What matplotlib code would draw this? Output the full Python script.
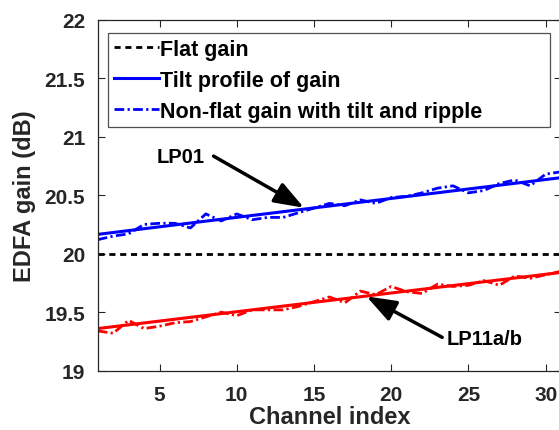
import matplotlib
matplotlib.use("Agg")
import matplotlib.pyplot as plt
import numpy as np

plt.rcParams['font.family'] = ['Liberation Sans', 'DejaVu Sans']
plt.rcParams['font.weight'] = 'bold'

# Channel indices
channels = np.arange(1, 32)

# Flat gain reference level (dB)
flat_gain = 20.0

# Tilt profiles (end points, channel 1 and 31)
tilt_x = [1, 31]
lp01_tilt = [20.165, 20.65]
lp11_tilt = [19.36, 19.84]

# Non-flat gain with tilt and ripple
lp01_ripple = [20.12, 20.15, 20.17, 20.25, 20.26, 20.26, 20.22, 20.34, 20.28, 20.34,
               20.29, 20.31, 20.31, 20.35, 20.39, 20.43, 20.41, 20.46, 20.43, 20.48,
               20.49, 20.52, 20.56, 20.58, 20.52, 20.54, 20.60, 20.63, 20.58, 20.68,
               20.70]
lp11_ripple = [19.34, 19.32, 19.43, 19.36, 19.38, 19.41, 19.42, 19.46, 19.50, 19.47,
               19.52, 19.52, 19.52, 19.55, 19.59, 19.63, 19.58, 19.68, 19.65, 19.72,
               19.675, 19.66, 19.74, 19.72, 19.73, 19.77, 19.73, 19.81, 19.79, 19.82,
               19.85]

fig = plt.figure(figsize=(5.59, 4.31), dpi=100)
ax = fig.add_axes([0.1748, 0.1376, 0.829, 0.8144])

ax.plot([1, 31], [flat_gain, flat_gain], color='k', lw=2, dashes=(2.2, 1.7),
        label='Flat gain')
ax.plot(tilt_x, lp01_tilt, color='b', lw=2.2, label='Tilt profile of gain')
ax.plot(channels, lp01_ripple, color='b', lw=2, dashes=(3.5, 1.2, 0.8, 1.2),
        label='Non-flat gain with tilt and ripple')
ax.plot(tilt_x, lp11_tilt, color='r', lw=2.2)
ax.plot(channels, lp11_ripple, color='r', lw=2, dashes=(3.5, 1.2, 0.8, 1.2))

# Arrows and mode labels
arrow_style = dict(arrowstyle='-|>,head_length=0.6,head_width=0.22', lw=2.5,
                   mutation_scale=30, color='k', shrinkA=0, shrinkB=0)
ax.annotate('', xy=(14.35, 20.393), xytext=(8.5, 20.834), arrowprops=arrow_style)
ax.text(7.9, 20.834, 'LP01', ha='right', va='center', fontsize=14.5, fontweight='bold')
ax.annotate('', xy=(18.4, 19.635), xytext=(23.3, 19.285), arrowprops=arrow_style)
ax.text(23.6, 19.276, 'LP11a/b', ha='left', va='center', fontsize=14.5, fontweight='bold')

ax.set_xlim(1, 31)
ax.set_ylim(19, 22)
ax.set_xticks([5, 10, 15, 20, 25, 30])
ax.set_yticks([19, 19.5, 20, 20.5, 21, 21.5, 22])
ax.set_yticklabels(['19', '19.5', '20', '20.5', '21', '21.5', '22'])
ax.tick_params(direction='in', length=5, width=0.8, top=True, right=True,
               labelsize=15, colors='#262626')
ax.tick_params(axis='y', pad=9)
ax.tick_params(axis='x', pad=10)
for lab in ax.get_xticklabels() + ax.get_yticklabels():
    lab.set_fontweight('bold')
for sp in ax.spines.values():
    sp.set_color('#262626')
    sp.set_linewidth(0.9)

ax.set_xlabel('Channel index', fontsize=17, fontweight='bold', color='#262626', labelpad=1)
ax.set_ylabel('EDFA gain (dB)', fontsize=17, fontweight='bold', color='#262626', labelpad=6)

leg = ax.legend(loc='upper left', bbox_to_anchor=(0.022, 0.7145, 0.954, 0.2475),
                mode='expand', fontsize=15.5, handlelength=2.1, handletextpad=0.05,
                borderpad=0.26, labelspacing=0.47, borderaxespad=0,
                frameon=True, fancybox=False)
leg.get_frame().set_edgecolor('#262626')
leg.get_frame().set_linewidth(0.9)
for t in leg.get_texts():
    t.set_fontweight('bold')

fig.savefig('out.png', dpi=100)
